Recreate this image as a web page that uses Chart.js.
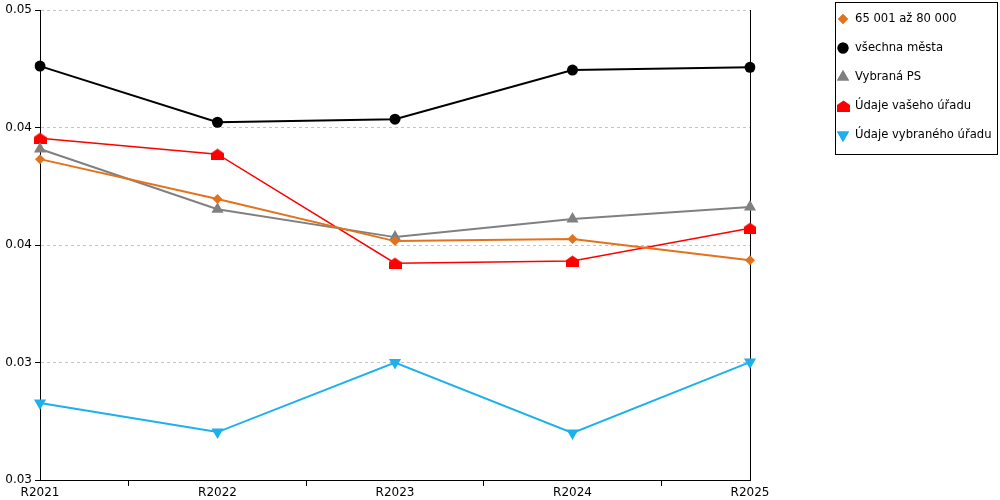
<!DOCTYPE html>
<html>
<head>
<meta charset="utf-8">
<script src="https://cdn.jsdelivr.net/npm/chart.js@4"></script>
<style>
  html, body { margin: 0; padding: 0; background: #fff; }
  #wrap { width: 1000px; height: 500px; position: relative; }
</style>
</head>
<body>
<div id="wrap"><canvas id="graf"></canvas></div>
<script>
const roky = ['R2021', 'R2022', 'R2023', 'R2024', 'R2025'];
const nazvy = ['65 001 až 80 000', 'všechna města', 'Vybraná PS', 'Údaje vašeho úřadu', 'Údaje vybraného úřadu'];
const hodnotyVelikost = [0.04366, 0.04196, 0.04017, 0.04026, 0.03936];
const hodnotyVsechna = [0.04762, 0.04523, 0.04536, 0.04745, 0.04757];
const hodnotyPS = [0.04409, 0.04153, 0.04034, 0.04111, 0.04162];
const hodnotyVasUrad = [0.04455, 0.04387, 0.03923, 0.03932, 0.04072];
const hodnotyVybranyUrad = [0.03328, 0.03204, 0.03500, 0.03200, 0.03502];
const popiskyY = ['0.03', '0.03', '0.04', '0.04', '0.05'];

const font = { family: '"DejaVu Sans", Verdana, sans-serif', size: 12 };

// domecek pro "Údaje vašeho úřadu"
const domecek = (() => {
  const c = document.createElement('canvas');
  c.width = 13; c.height = 12;
  const g = c.getContext('2d');
  g.fillStyle = '#ff0000';
  g.beginPath();
  g.moveTo(6.5, 0.5); g.lineTo(13, 5); g.lineTo(13, 12); g.lineTo(0, 12); g.lineTo(0, 5);
  g.closePath(); g.fill();
  return c;
})();

const styly = [
  { barva: '#e2721c', bod: 'rectRot', r: 5, rot: 0, sirka: 2 },
  { barva: '#000000', bod: 'circle', r: 5.5, rot: 0, sirka: 2 },
  { barva: '#808080', bod: 'triangle', r: 7, rot: 0, sirka: 2 },
  { barva: '#ff0000', bod: domecek, r: 6, rot: 0, sirka: 1.5 },
  { barva: '#1cb0ec', bod: 'triangle', r: 7, rot: 180, sirka: 2 }
];
const rady = [hodnotyVelikost, hodnotyVsechna, hodnotyPS, hodnotyVasUrad, hodnotyVybranyUrad];

const datasets = rady.map((d, i) => ({
  label: nazvy[i],
  data: d,
  borderColor: styly[i].barva,
  backgroundColor: styly[i].barva,
  borderWidth: styly[i].sirka,
  pointStyle: styly[i].bod,
  pointRadius: styly[i].r,
  pointRotation: styly[i].rot,
  pointBorderWidth: 0,
  pointHoverRadius: styly[i].r,
  tension: 0,
  yAxisID: 'y'
}));

// legenda v ramecku vpravo
const legenda = {
  id: 'legenda',
  afterDraw(chart) {
    const ctx = chart.ctx;
    ctx.save();
    ctx.strokeStyle = '#000';
    ctx.lineWidth = 1;
    ctx.strokeRect(835.5, 2.5, 162, 152);
    ctx.font = '11.6px ' + font.family;
    ctx.textBaseline = 'middle';
    nazvy.forEach((n, i) => {
      const y = 19 + i * 29;
      const s = styly[i];
      if (typeof s.bod === 'string') {
        ctx.fillStyle = s.barva;
        Chart.helpers.drawPoint(ctx, { pointStyle: s.bod, radius: s.r, rotation: s.rot, borderWidth: 0 }, 843, y);
        ctx.fill();
      } else {
        ctx.drawImage(s.bod, 837, y - 6);
      }
      ctx.fillStyle = '#000';
      ctx.fillText(n, 855, y);
    });
    ctx.restore();
  }
};

new Chart(document.getElementById('graf').getContext('2d'), {
  type: 'line',
  data: { labels: roky, datasets: datasets },
  options: {
    responsive: true,
    maintainAspectRatio: false,
    animation: false,
    layout: { padding: { top: 10, left: 0, right: 0, bottom: 0 } },
    plugins: { legend: { display: false }, tooltip: { enabled: false } },
    scales: {
      x: {
        offset: false,
        grid: { offset: true, drawOnChartArea: false, tickLength: 6, tickColor: '#000' },
        border: { color: '#000', width: 1 },
        ticks: { font: font, color: '#000', padding: 0, maxRotation: 0, autoSkip: false },
        afterFit(s) { s.height = 20; }
      },
      y: {
        min: 0.03, max: 0.05,
        grid: { color: '#c4c4c4', tickColor: '#000', tickLength: 5, tickBorderDash: [], drawTicks: true },
        border: { color: '#000', width: 1, dash: [3, 3], display: true },
        ticks: {
          stepSize: 0.005, font: font, color: '#000', padding: 3,
          callback: (v, i) => popiskyY[i]
        },
        afterFit(s) { s.width = 40; }
      },
      y2: {
        position: 'right',
        min: 0.03, max: 0.05,
        grid: { drawOnChartArea: false, drawTicks: false },
        border: { color: '#000', width: 1 },
        ticks: { display: false },
        afterFit(s) { s.width = 250; }
      }
    }
  },
  plugins: [legenda]
});
</script>
</body>
</html>
